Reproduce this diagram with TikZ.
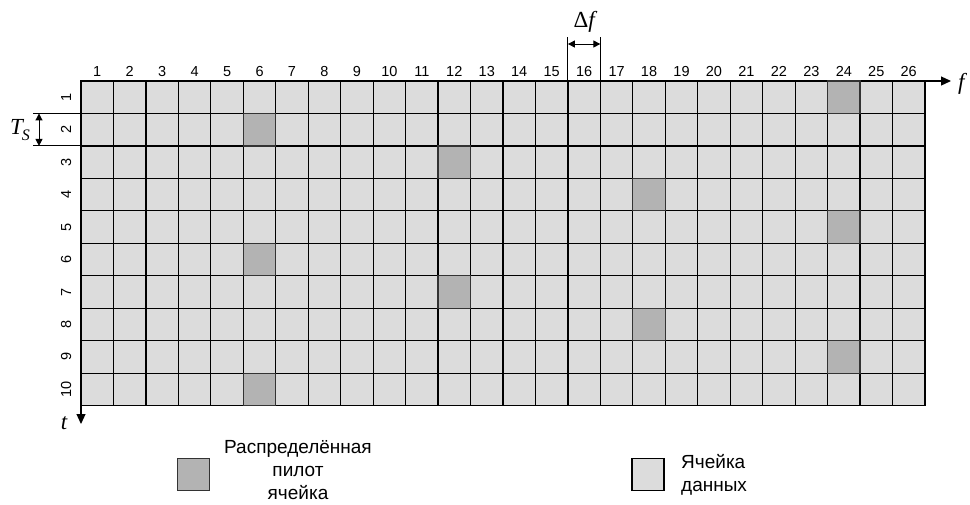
\documentclass[tikz,border=0pt]{standalone}
\usepackage{fontspec}
\setsansfont{Liberation Sans}
\newfontfamily\tnr{Liberation Serif}
\usetikzlibrary{arrows.meta}

\definecolor{datagray}{HTML}{DCDCDC}
\definecolor{pilotgray}{HTML}{B3B3B3}

\begin{document}
\begin{tikzpicture}[x=1pt, y=-1pt,
                    cell/.style={fill=datagray, draw=black, line width=1.2pt},
                    pilot/.style={fill=pilotgray, draw=black!80, line width=1.2pt},
                    num/.style={font=\sffamily\fontsize{14.5}{16}\selectfont, inner sep=0pt, anchor=base},
                    legtext/.style={font=\sffamily\fontsize{19}{23}\selectfont, inner sep=0pt},
                    mathlbl/.style={font=\tnr\itshape\fontsize{23}{26}\selectfont, inner sep=0pt},
                    axis/.style={line width=1.2pt, -{Triangle[length=10pt, width=9pt]}},
                    dim/.style={line width=1pt, {Triangle[length=7pt, width=7pt]}-{Triangle[length=7pt, width=7pt]}}
                ]
\useasboundingbox (0,0) rectangle (970,504);
\def\cw{32.46}

% сетка ячеек
\foreach \c in {1,...,26}
  \foreach \r in {1,...,10}
    \draw[cell] ({81+(\c-1)*\cw},{81+(\r-1)*\cw}) rectangle ++(\cw,\cw);

% пилотные ячейки
\foreach \c/\r in {24/1,6/2,12/3,18/4,24/5,6/6,12/7,18/8,24/9,6/10}
  \draw[pilot] ({81+(\c-1)*\cw},{81+(\r-1)*\cw}) rectangle ++(\cw,\cw);

% номера поднесущих и символов
\foreach \c in {1,...,26}
  \node[num] (col\c) at ({81+(\c-0.5)*\cw},76) {\c};
\foreach \r in {1,...,10}
  \node[num, rotate=90] (row\r) at (71,{81+(\r-0.5)*\cw}) {\r};

% оси
\coordinate (fend) at (951,81);
\coordinate (tend) at (81,424);
\draw[axis] ({81+26*\cw},81) -- (fend);
\draw[axis] (81,{81+10*\cw}) -- (tend);
\node[mathlbl, anchor=west] (flbl) at (958,84) {f};
\node[mathlbl] (tlbl) at (64,423) {t};

% T_s
\coordinate (ts1) at (33,{81+\cw});
\coordinate (ts2) at (33,{81+2*\cw});
\draw[line width=1pt] (ts1) -- (81,{81+\cw});
\draw[line width=1pt] (ts2) -- (81,{81+2*\cw});
\draw[dim] (39,{81+\cw}) -- (39,{81+2*\cw});
\node[mathlbl] (tslbl) at (20,130) {T\kern-1pt\raisebox{-6pt}{\fontsize{16}{16}\selectfont S}};

% Delta f
\coordinate (df1) at ({81+15*\cw},37);
\coordinate (df2) at ({81+16*\cw},37);
\draw[line width=1pt] (df1) -- ({81+15*\cw},81);
\draw[line width=1pt] (df2) -- ({81+16*\cw},81);
\draw[dim] ({81+15*\cw},44) -- ({81+16*\cw},44);
\node[mathlbl] (dflbl) at ({81+15.5*\cw},22) {{\upshape Δ}f};

% легенда
\node[pilot, minimum size=32pt, inner sep=0pt] (legpilot) at (193.5,474.5) {};
\node[legtext, align=center] (legpilottxt) at (298,470) {Распределённая\\пилот\\ячейка};
\node[cell, minimum size=32pt, inner sep=0pt] (legdata) at (648,474.5) {};
\node[legtext, align=left, anchor=west] (legdatatxt) at (681,475) {Ячейка\\данных};

\end{tikzpicture}
\end{document}
